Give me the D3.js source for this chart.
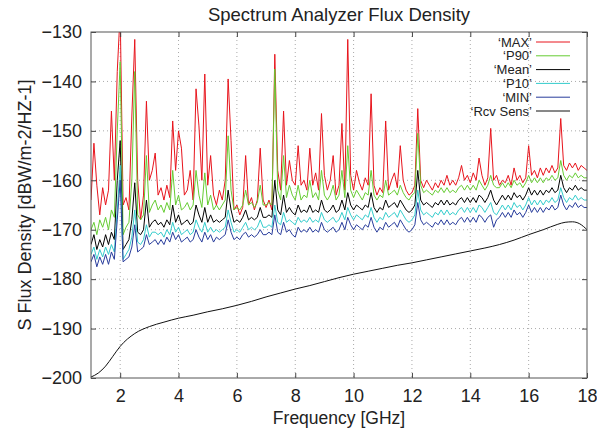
<!DOCTYPE html>
<html>
<head>
<meta charset="utf-8">
<script src="https://cdn.jsdelivr.net/npm/d3@7"></script>
<style>
  body { margin: 0; background: #fff; }
  text { font-family: "Liberation Sans", Arial, Helvetica, sans-serif; fill: #222; }
</style>
</head>
<body>
<div id="chart"></div>
<script>
// Barrido del analizador: 1.0 a 18.0 GHz cada 0.1 GHz
const freqStart = 1.0;
const freqStep = 0.1;

const maxVals = [
  -164,-152.5,-161,-167,-161.5,-165,-162,-146,-160,-138,
  -126,-165,-163.5,-166,-147,-131.5,-160,-168,-163,-144,
  -160,-158,-154.5,-163,-161.5,-164,-161,-163.5,-148,-158,
  -150,-153.5,-163,-162,-158,-164,-141.5,-149,-160,-138.5,
  -161,-155,-163,-165,-162,-164,-160,-139.5,-152,-166,
  -165,-167,-165.5,-155,-165,-163.5,-166,-164,-153.5,-164,
  -165.5,-164,-166,-134.5,-158,-162,-146,-161,-156,-160,
  -161,-153,-161,-160,-162,-153.5,-161,-158.5,-162,-146.5,
  -159,-162,-160,-155,-163,-161,-148.5,-162,-131.5,-159,
  -162,-158,-160.5,-162,-159.5,-161,-142.5,-161,-163,-161.5,
  -162.5,-148,-162,-160,-158.5,-161.5,-153,-160,-162,-163,
  -162.5,-161,-145.5,-160,-161.5,-160,-161,-162,-160.5,-161.5,
  -160,-161,-159,-161,-160,-161,-159.5,-157,-160,-159,
  -160.5,-158.5,-160,-155.5,-159,-161,-159.5,-149.5,-160,-159,
  -161,-160,-160.5,-159,-161,-157.5,-160,-159,-160.5,-159.5,
  -153,-159,-158,-159.5,-157.5,-159,-157.5,-158.5,-157,-158.5,
  -157.5,-147.5,-157,-158,-156.5,-157.5,-156.5,-158,-157,-157.5,
  -158
];

const p90Vals = [
  -170,-168.5,-171,-168,-169.5,-167.5,-170,-166,-167.5,-150,
  -136,-171,-169.5,-168.5,-160,-138,-167,-168,-167,-155,
  -166.5,-165,-164,-166,-165,-166.5,-164.5,-166,-158,-165,
  -163,-166,-165.5,-164.5,-166,-165,-158,-163,-165.5,-158.5,
  -165,-163,-166,-165,-166,-165,-164,-151,-162,-166,
  -165.5,-166,-165,-162,-165,-164.5,-165.5,-164.5,-161,-165,
  -165,-164.5,-165,-137.5,-162,-164,-155,-163.5,-161,-163,
  -164,-161,-164,-163,-163.5,-160,-163.5,-162.5,-164,-158,
  -163,-164,-163,-161,-164,-163,-158,-163.5,-153,-162,
  -163.5,-162,-163,-164,-162.5,-163,-158,-163,-164,-163,
  -163.5,-160,-163,-162.5,-162,-163,-161,-162.5,-163.5,-164,
  -163,-162.5,-150.5,-161,-162.5,-162,-162.5,-163,-162,-162.5,
  -161.5,-162.5,-161.5,-162.5,-162,-162.5,-161.5,-161,-162,-161,
  -162,-161,-162,-160,-161,-162,-161,-159,-161,-161.5,
  -161.5,-160.5,-161.5,-160.5,-161.5,-160,-161,-160.5,-161.5,-160.5,
  -159,-160.5,-159.5,-160.5,-159.5,-160.5,-159.5,-160,-159,-160,
  -159.5,-156,-159,-160,-159,-159.5,-158.5,-159.5,-159,-159.5,
  -159.5
];

const meanVals = [
  -173,-171,-174,-172,-173.5,-171,-173,-170.5,-172,-160,
  -152,-174,-173,-172,-168,-160.5,-170.5,-171,-170,-164,
  -169.5,-168.5,-168,-169,-168.5,-169.5,-168,-169,-165,-168.5,
  -167,-169,-168.5,-168,-169,-168.5,-165,-167,-168.5,-165.5,
  -168.5,-167,-168.5,-168,-168.5,-168,-167.5,-162,-166,-168.5,
  -168,-168.5,-167.5,-166,-168,-167.5,-168,-167.5,-165.5,-167.5,
  -167.5,-167,-167.5,-160,-166,-167,-163,-166.5,-165.5,-166.5,
  -167,-165,-166.5,-166,-166.5,-165,-166.5,-166,-166.5,-164,
  -166,-166.5,-166,-165,-166.5,-166,-164,-166,-162.5,-165,
  -166,-165,-165.5,-166,-165,-165.5,-162.5,-165.5,-166.5,-165.5,
  -166,-164,-165.5,-165,-164.5,-165.5,-164,-165,-166,-166.5,
  -166,-165,-158,-164,-165,-164.5,-165,-165.5,-164.5,-165,
  -164,-165,-164,-165,-164.5,-165,-164,-163.5,-164.5,-163.5,
  -164.5,-163.5,-164.5,-163,-163.5,-164.5,-163.5,-162,-164,-165,
  -164,-163,-164,-163,-164,-162.5,-163.5,-163,-164,-163,
  -161.5,-163,-162,-163,-162,-163,-162,-162.5,-161.5,-162.5,
  -162,-159,-161.5,-162.5,-161.5,-162,-161,-162,-161.5,-162,
  -162
];

const p10Vals = [
  -175,-173.5,-176,-174,-175.5,-173.5,-175,-173,-174.5,-166,
  -157,-176,-175,-174,-171.5,-166,-172.5,-173,-172,-169,
  -171.5,-170.5,-170.5,-171,-170.5,-171.5,-170,-171,-168.5,-170.5,
  -169.5,-171,-170.5,-170,-171,-170.5,-168,-169.5,-170.5,-168.5,
  -170.5,-169.5,-170.5,-170,-170.5,-170,-169.5,-166,-168.5,-170.5,
  -170,-170.5,-169.5,-168.5,-170,-169.5,-170,-169.5,-168,-169.5,
  -169.5,-169,-169.5,-165,-168.5,-169,-166.5,-168.5,-168,-168.5,
  -169,-167.5,-168.5,-168,-168.5,-167.5,-168.5,-168,-168.5,-166.5,
  -168,-168.5,-168,-167.5,-168.5,-168,-166.5,-168,-165.5,-167,
  -168,-167,-167.5,-168,-167,-167.5,-165.5,-167.5,-168.5,-167.5,
  -168,-166.5,-167.5,-167,-166.5,-167.5,-166,-167,-168,-168.5,
  -168,-167,-162,-166,-167,-166.5,-167,-167.5,-166.5,-167,
  -166,-167,-166,-167,-166.5,-167,-166,-165.5,-166.5,-165.5,
  -166.5,-165.5,-166.5,-165,-165.5,-166.5,-165.5,-164.5,-166.5,-167,
  -166,-165,-166,-165,-166,-164.5,-165.5,-165,-166,-165,
  -163.5,-165,-164,-165,-164,-165,-164,-164.5,-163.5,-164.5,
  -164,-161.5,-163.5,-164.5,-163.5,-164,-163,-164,-163.5,-164,
  -164
];

const minVals = [
  -176.5,-175,-177.5,-175.5,-177,-175,-177,-174.5,-176,-168,
  -160,-176.5,-176,-175.5,-173.5,-169,-174.5,-174,-173.5,-171,
  -173,-172.5,-172,-173,-172,-173,-171.5,-172.5,-170.5,-172,
  -171,-172.5,-172,-171.5,-172.5,-172,-170,-171.5,-172.5,-170.5,
  -172,-171,-172.5,-171.5,-172,-171.5,-171,-168,-170.5,-172,
  -171.5,-172,-171,-170.5,-171.5,-171,-171.5,-171,-170,-171,
  -171,-170.5,-171,-167,-170.5,-171,-168.5,-170.5,-170,-171,
  -171.5,-169.5,-170.5,-170,-170.5,-169.5,-170.5,-170,-170.5,-168.5,
  -170,-170.5,-170,-169.5,-170.5,-170,-168.5,-170,-167.5,-169,
  -170,-169,-169.5,-170,-169,-169.5,-167.5,-169.5,-170.5,-169.5,
  -170,-168.5,-169.5,-169,-168.5,-169.5,-168,-169,-170,-170.5,
  -170,-169,-164.5,-168,-169,-168.5,-169,-169.5,-168.5,-169,
  -168,-169,-168,-169,-168.5,-169,-168,-167.5,-168.5,-167.5,
  -168.5,-167.5,-168.5,-167,-167.5,-168.5,-167.5,-167,-169.5,-168,
  -167.5,-166.5,-167.5,-166.5,-167.5,-166,-167,-166.5,-167.5,-166.5,
  -165,-166.5,-165.5,-166.5,-165.5,-166.5,-165.5,-166,-165,-166,
  -165.5,-163,-165,-166,-165,-165.5,-164.5,-165.5,-165,-165.5,
  -165.5
];

// Sensibilidad del receptor (curva suave)
const rcvFreq = [1, 1.25, 1.5, 1.75, 2, 2.5, 3, 3.5, 4, 4.5, 5, 5.5, 6, 6.5, 7, 7.5, 8, 8.5, 9, 9.5,
  10, 10.5, 11, 11.5, 12, 12.5, 13, 13.5, 14, 14.5, 15, 15.5, 16, 16.5, 17, 17.25, 17.5, 17.75, 18];
const rcvVals = [-199.8, -199.0, -197.6, -195.6, -193.6, -191.0, -189.6, -188.7, -187.9, -187.3,
  -186.6, -186.0, -185.3, -184.5, -183.6, -182.8, -182.0, -181.3, -180.5, -179.7,
  -179.0, -178.4, -177.8, -177.2, -176.7, -176.1, -175.5, -174.9, -174.3, -173.7,
  -173.0, -172.1, -171.0, -170.0, -168.9, -168.5, -168.4, -168.8, -170.0];

const seriesNames = ["‘MAX’", "‘P90’", "‘Mean’", "‘P10’", "‘MIN’", "‘Rcv Sens’"];
const seriesColors = ["#e8141c", "#66cc33", "#000000", "#33cccc", "#283c9c", "#111111"];

const xTicks = [2, 4, 6, 8, 10, 12, 14, 16, 18];
const yTicks = [-130, -140, -150, -160, -170, -180, -190, -200];

const width = 597, height = 431;
const margin = { top: 32, right: 10, bottom: 53, left: 91 };
const plotW = width - margin.left - margin.right;
const plotH = height - margin.top - margin.bottom;

const svg = d3.select("#chart").append("svg")
  .attr("width", width)
  .attr("height", height);

const x = d3.scaleLinear().domain([1, 18]).range([0, plotW]);
const y = d3.scaleLinear().domain([-200, -130]).range([plotH, 0]);

const g = svg.append("g").attr("transform", `translate(${margin.left},${margin.top})`);

// Rejilla punteada
g.append("g").selectAll("line").data(xTicks.slice(0, -1)).enter().append("line")
  .attr("x1", d => x(d)).attr("x2", d => x(d))
  .attr("y1", 0).attr("y2", plotH)
  .attr("stroke", "#aaa").attr("stroke-dasharray", "1,3");
g.append("g").selectAll("line").data(yTicks.slice(1, -1)).enter().append("line")
  .attr("x1", 0).attr("x2", plotW)
  .attr("y1", d => y(d)).attr("y2", d => y(d))
  .attr("stroke", "#aaa").attr("stroke-dasharray", "1,3");

// Series
g.append("clipPath").attr("id", "clip").append("rect")
  .attr("width", plotW).attr("height", plotH);

const line = d3.line()
  .x((d, i) => x(freqStart + i * freqStep))
  .y(d => y(d));

const allSeries = [maxVals, p90Vals, meanVals, p10Vals, minVals];
const plot = g.append("g").attr("clip-path", "url(#clip)");
allSeries.forEach((vals, k) => {
  plot.append("path")
    .datum(vals)
    .attr("d", line)
    .attr("fill", "none")
    .attr("stroke", seriesColors[k])
    .attr("stroke-width", 1)
    .attr("stroke-linejoin", "round");
});

const rcvLine = d3.line()
  .x((d, i) => x(rcvFreq[i]))
  .y(d => y(d))
  .curve(d3.curveMonotoneX);
plot.append("path")
  .datum(rcvVals)
  .attr("d", rcvLine)
  .attr("fill", "none")
  .attr("stroke", seriesColors[5])
  .attr("stroke-width", 1);

// Ejes con marcas hacia dentro
const fmt = d3.format("");
const axisStyle = sel => {
  sel.select(".domain").remove();
  sel.selectAll(".tick line").attr("stroke", "#444");
  sel.selectAll(".tick text").style("font-size", "18px").attr("fill", "#222");
};
g.append("g").attr("transform", `translate(0,${plotH})`)
  .call(d3.axisBottom(x).tickValues(xTicks).tickSize(-5).tickPadding(11).tickFormat(fmt))
  .call(axisStyle);
g.append("g")
  .call(d3.axisTop(x).tickValues(xTicks).tickSize(-5).tickFormat(""))
  .call(axisStyle);
g.append("g")
  .call(d3.axisLeft(y).tickValues(yTicks).tickSize(-5).tickPadding(9).tickFormat(fmt))
  .call(axisStyle);
g.append("g").attr("transform", `translate(${plotW},0)`)
  .call(d3.axisRight(y).tickValues(yTicks).tickSize(-5).tickFormat(""))
  .call(axisStyle);

g.append("rect")
  .attr("width", plotW).attr("height", plotH)
  .attr("fill", "none").attr("stroke", "#555").attr("stroke-width", 1);

// Leyenda
const legend = g.append("g").attr("transform", `translate(${plotW - 51},10)`);
seriesNames.forEach((name, i) => {
  const row = legend.append("g").attr("transform", `translate(0,${i * 13.8})`);
  row.append("text")
    .attr("x", -4).attr("y", 4.5)
    .attr("text-anchor", "end")
    .style("font-size", "13px")
    .text(name);
  row.append("line")
    .attr("x1", 0).attr("x2", 34)
    .attr("stroke", seriesColors[i]).attr("stroke-width", 1);
});

// Títulos
svg.append("text")
  .attr("x", margin.left + plotW / 2).attr("y", 21)
  .attr("text-anchor", "middle")
  .style("font-size", "18.5px")
  .text("Spectrum Analyzer Flux Density");

svg.append("text")
  .attr("x", margin.left + plotW / 2).attr("y", 424)
  .attr("text-anchor", "middle")
  .style("font-size", "17.5px")
  .text("Frequency [GHz]");

svg.append("text")
  .attr("transform", `translate(31,${margin.top + plotH / 2}) rotate(-90)`)
  .attr("text-anchor", "middle")
  .style("font-size", "18px")
  .text("S Flux Density [dBW/m-2/HZ-1]");
</script>
</body>
</html>
